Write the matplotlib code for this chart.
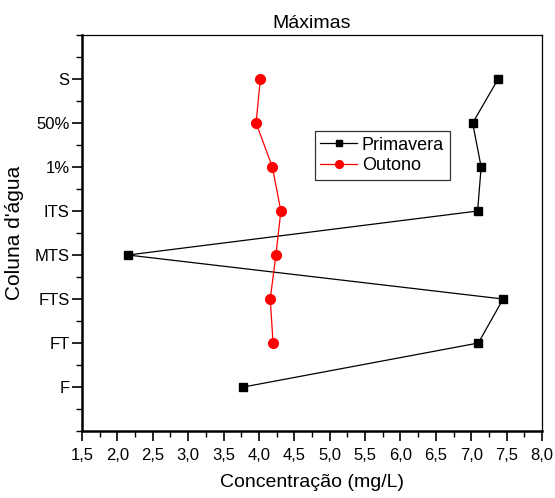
import numpy as np
import matplotlib
matplotlib.use('Agg')
import matplotlib.pyplot as plt
from matplotlib.ticker import MultipleLocator, FuncFormatter

# dados
niveis = ['F', 'FT', 'FTS', 'MTS', 'ITS', '1%', '50%', 'S']
primavera = [3.78, 7.10, 7.45, 2.15, 7.09, 7.14, 7.02, 7.38]
outono = [None, 4.20, 4.16, 4.24, 4.31, 4.19, 3.96, 4.02]

plt.rcParams['font.family'] = ['Liberation Sans', 'DejaVu Sans']

fig = plt.figure(figsize=(5.55, 4.98), dpi=100)
ax = fig.add_axes([0.1477, 0.1345, 0.8289, 0.7952])

y = np.arange(1, len(niveis) + 1)
ax.plot(primavera, y, color='black', lw=0.9, marker='s', markersize=6,
        markerfacecolor='black', markeredgecolor='black', label='Primavera')
yo = [v for v, o in zip(y, outono) if o is not None]
xo = [o for o in outono if o is not None]
ax.plot(xo, yo, color='red', lw=0.9, marker='o', markersize=7,
        markerfacecolor='red', markeredgecolor='red', label='Outono')

ax.set_xlim(1.5, 8.0)
ax.set_ylim(0, 9)
ax.xaxis.set_major_locator(MultipleLocator(0.5))
ax.xaxis.set_minor_locator(MultipleLocator(0.25))
ax.xaxis.set_major_formatter(FuncFormatter(lambda v, p: ('%.1f' % v).replace('.', ',')))
ax.set_yticks(y)
ax.set_yticklabels(niveis)
ax.yaxis.set_minor_locator(MultipleLocator(0.5))

ax.tick_params(which='major', direction='out', length=7, width=1.2, labelsize=12)
ax.tick_params(which='minor', direction='out', length=4, width=1.0)
ax.tick_params(axis='x', pad=5)
ax.tick_params(axis='y', pad=2)

for s in ['left', 'bottom']:
    ax.spines[s].set_linewidth(1.8)
for s in ['right', 'top']:
    ax.spines[s].set_linewidth(0.9)

ax.set_title('Máximas', fontsize=14, pad=5)
ax.set_xlabel('Concentração (mg/L)', fontsize=14, labelpad=8)
ax.set_ylabel("Coluna d'água", fontsize=15)
ax.yaxis.set_label_coords(-0.125, 0.5)

leg = ax.legend(loc='upper left', bbox_to_anchor=(0.487, 0.78), fontsize=13,
                frameon=True, fancybox=False, edgecolor='black',
                handlelength=2.0, borderpad=0.3, labelspacing=0.2,
                handletextpad=0.3, markerscale=0.8)
leg.get_frame().set_linewidth(0.9)

fig.savefig('out.png', dpi=100)
